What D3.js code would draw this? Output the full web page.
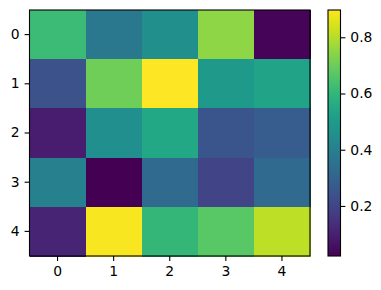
<!DOCTYPE html>
<html>
<head>
<meta charset="utf-8">
<script src="https://cdn.jsdelivr.net/npm/d3@7"></script>
<style>
  body { margin: 0; background: #fff; }
  svg { display: block; font-family: "DejaVu Sans", sans-serif; }
</style>
</head>
<body>
<div id="chart"></div>
<script>
// heatmap values, row by row (rows 0..4, columns 0..4)
const rows = [0, 1, 2, 3, 4];
const cols = [0, 1, 2, 3, 4];
const values = [
    [0.617, 0.372, 0.459, 0.748, 0.030],
    [0.241, 0.705, 0.897, 0.495, 0.530],
    [0.092, 0.455, 0.547, 0.250, 0.276],
    [0.398, 0.022, 0.320, 0.197, 0.320],
    [0.110, 0.890, 0.600, 0.670, 0.810]
];
const colorTicks = [0.2, 0.4, 0.6, 0.8];

const width = 381, height = 290;
const plot = {left: 29.5, right: 310, top: 10, bottom: 256};
const cbar = {left: 328, right: 340.5};
const fontSize = 13.9;
const tickLen = 4.9;

const svg = d3.select('#chart').append('svg')
    .attr('width', width)
    .attr('height', height);

const x = d3.scaleBand().domain(cols).range([plot.left, plot.right]);
const y = d3.scaleBand().domain(rows).range([plot.top, plot.bottom]);

const flat = values.flat();
const vmin = d3.min(flat), vmax = d3.max(flat);
const color = d3.scaleSequential(d3.interpolateViridis).domain([vmin, vmax]);

// cells
const cells = [];
values.forEach((row, r) => row.forEach((v, c) => cells.push({r, c, v})));

svg.append('g').selectAll('rect')
    .data(cells)
    .enter().append('rect')
    .attr('x', d => x(d.c))
    .attr('y', d => y(d.r))
    .attr('width', x.bandwidth() + 0.5)
    .attr('height', y.bandwidth() + 0.5)
    .attr('fill', d => color(d.v))
    .attr('shape-rendering', 'crispEdges');

// axes
const xAxis = svg.append('g')
    .attr('transform', `translate(0,${plot.bottom})`)
    .call(d3.axisBottom(x).tickSize(tickLen).tickPadding(4.9));
const yAxis = svg.append('g')
    .attr('transform', `translate(${plot.left},0)`)
    .call(d3.axisLeft(y).tickSize(tickLen).tickPadding(4.9));

[xAxis, yAxis].forEach(a => {
    a.select('.domain').remove();
    a.selectAll('line').attr('stroke', '#000').attr('stroke-width', 1.1);
    a.selectAll('text').attr('fill', '#000').style('font-size', fontSize + 'px')
        .style('font-family', '"DejaVu Sans", sans-serif');
});

// frame
svg.append('rect')
    .attr('x', plot.left)
    .attr('y', plot.top)
    .attr('width', plot.right - plot.left)
    .attr('height', plot.bottom - plot.top)
    .attr('fill', 'none')
    .attr('stroke', '#000')
    .attr('stroke-width', 1.1);

// colorbar
const cy = d3.scaleLinear().domain([vmin, vmax]).range([plot.bottom, plot.top]);
const defs = svg.append('defs');
const grad = defs.append('linearGradient')
    .attr('id', 'cbgrad')
    .attr('x1', 0).attr('y1', 1).attr('x2', 0).attr('y2', 0);
d3.range(0, 1.0001, 0.05).forEach(t => {
    grad.append('stop')
        .attr('offset', t)
        .attr('stop-color', d3.interpolateViridis(t));
});

svg.append('rect')
    .attr('x', cbar.left)
    .attr('y', plot.top)
    .attr('width', cbar.right - cbar.left)
    .attr('height', plot.bottom - plot.top)
    .attr('fill', 'url(#cbgrad)')
    .attr('stroke', '#000')
    .attr('stroke-width', 1.1);

const cAxis = svg.append('g')
    .attr('transform', `translate(${cbar.right},0)`)
    .call(d3.axisRight(cy).tickValues(colorTicks).tickFormat(d3.format('.1f'))
        .tickSize(tickLen).tickPadding(4.9));
cAxis.select('.domain').remove();
cAxis.selectAll('line').attr('stroke', '#000').attr('stroke-width', 1.1);
cAxis.selectAll('text').attr('fill', '#000').style('font-size', fontSize + 'px')
    .style('font-family', '"DejaVu Sans", sans-serif');
</script>
</body>
</html>
